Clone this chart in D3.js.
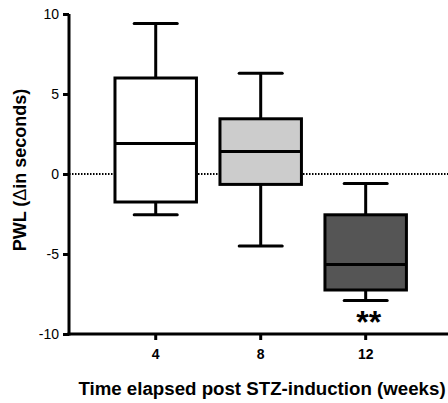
<!DOCTYPE html>
<html><head><meta charset="utf-8">
<script src="https://cdn.jsdelivr.net/npm/d3@7"></script>
<style>body{margin:0;background:#fff}svg{display:block}</style>
</head><body><svg id="c" width="448" height="403"></svg>
<script>
const categories = ["4", "8", "12"];
const whiskerHigh = [9.4, 6.3, -0.6];
const q3 = [6.0, 3.45, -2.55];
const median = [1.9, 1.4, -5.65];
const q1 = [-1.75, -0.65, -7.25];
const whiskerLow = [-2.55, -4.5, -7.9];
const fills = ["#ffffff", "#cccccc", "#555555"];
const yTicks = [-10, -5, 0, 5, 10];
const annotations = ["", "", "**"];

const svg = d3.select("#c");
const font = "'Liberation Sans', Arial, Helvetica, sans-serif";
const x = d3.scaleBand().domain(categories).range([69, 452.4]).paddingInner(0).paddingOuter(0.326);
const y = d3.scaleLinear().domain([-10, 10]).range([334, 14]);
const cx = d => x(d) + x.bandwidth() / 2;
const boxW = x.step() * 0.776;
const capW = x.step() * 0.41;

// zero reference line
svg.append("line").attr("x1", 69).attr("x2", 448).attr("y1", y(0)).attr("y2", y(0))
  .attr("stroke", "#000").attr("stroke-width", 2).attr("stroke-dasharray", "1.5,1.5");

const data = categories.map((c, i) => ({c, hi: whiskerHigh[i], q3: q3[i], med: median[i], q1: q1[i], lo: whiskerLow[i], fill: fills[i], ann: annotations[i]}));
const g = svg.append("g").attr("stroke", "#000").attr("stroke-width", 3);
data.forEach(d => {
  const c = cx(d.c);
  g.append("line").attr("x1", c).attr("x2", c).attr("y1", y(d.hi)).attr("y2", y(d.q3));
  g.append("line").attr("x1", c).attr("x2", c).attr("y1", y(d.q1)).attr("y2", y(d.lo));
  g.append("line").attr("x1", c - capW / 2).attr("x2", c + capW / 2).attr("y1", y(d.hi)).attr("y2", y(d.hi)).attr("stroke-linecap", "round");
  g.append("line").attr("x1", c - capW / 2).attr("x2", c + capW / 2).attr("y1", y(d.lo)).attr("y2", y(d.lo)).attr("stroke-linecap", "round");
  g.append("rect").attr("x", c - boxW / 2).attr("width", boxW).attr("y", y(d.q3)).attr("height", y(d.q1) - y(d.q3)).attr("fill", d.fill);
  g.append("line").attr("x1", c - boxW / 2).attr("x2", c + boxW / 2).attr("y1", y(d.med)).attr("y2", y(d.med));
  if (d.ann) {
    svg.append("text").attr("x", c + 3).attr("y", y(d.lo) + 33).attr("text-anchor", "middle")
      .attr("font-family", font).attr("font-weight", "bold").attr("font-size", 32).text(d.ann);
  }
});

// axes
const yAxis = svg.append("g").attr("transform", "translate(69,0)")
  .call(d3.axisLeft(y).tickValues(yTicks).tickFormat(d => String(d)).tickSize(6).tickSizeOuter(0).tickPadding(4));
const xAxis = svg.append("g").attr("transform", "translate(0,334)")
  .call(d3.axisBottom(x).tickSize(6).tickSizeOuter(0).tickPadding(9));
[yAxis, xAxis].forEach(a => {
  a.select(".domain").attr("stroke-width", 3);
  a.selectAll(".tick line").attr("stroke-width", 3);
  a.selectAll("text").attr("font-family", font).attr("font-size", 14).attr("fill", "#000");
});
xAxis.selectAll("text").attr("font-weight", "bold");
yAxis.select(".domain").attr("d", "M0,14V335.5");
xAxis.select(".domain").attr("d", "M67.5,0H452");

svg.append("text").attr("x", 262).attr("y", 395).attr("text-anchor", "middle")
  .attr("font-family", font).attr("font-weight", "bold").attr("font-size", 18.7)
  .text("Time elapsed post STZ-induction (weeks)");
svg.append("text").attr("transform", "translate(26,170) rotate(-90)").attr("text-anchor", "middle")
  .attr("font-family", font).attr("font-weight", "bold").attr("font-size", 18)
  .html('PWL (<tspan font-weight="normal">Δ</tspan>in seconds)');
</script></body></html>
